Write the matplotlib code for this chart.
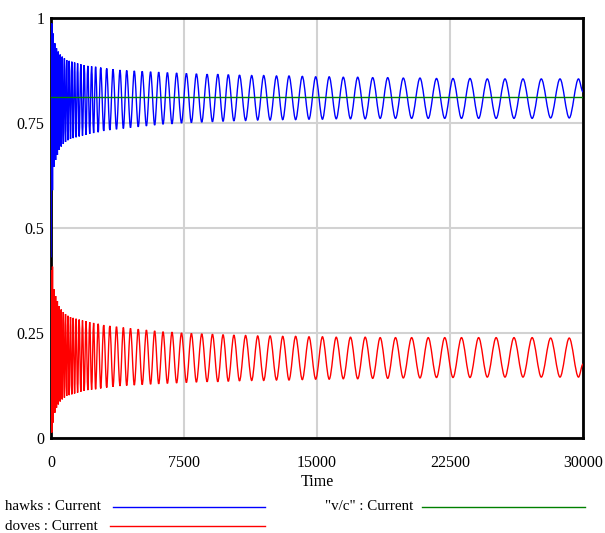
import matplotlib
matplotlib.use("Agg")
import matplotlib.pyplot as plt
from matplotlib.path import Path
from matplotlib.patches import PathPatch
from matplotlib.lines import Line2D

plt.rcParams['font.family'] = ['Liberation Serif', 'DejaVu Serif']

### turning points (crests / troughs), hawks first crest at t=45
turn_times = [0,
    45, 85, 124, 169, 214, 262, 310, 361, 412, 465, 519, 575, 632, 694, 756, 820,
    885, 955, 1026, 1100, 1173, 1252, 1331, 1415, 1500, 1590, 1680, 1776, 1872, 1973,
    2075, 2182, 2290, 2402, 2515, 2660, 2803, 2972, 3141, 3318, 3496, 3693, 3891, 4080,
    4269, 4483, 4697, 4920, 5143, 5380, 5616, 5845, 6073, 6318, 6564, 6823, 7083, 7359,
    7635, 7917, 8199, 8501, 8803, 9105, 9406, 9702, 9998, 10314, 10630, 10974, 11318,
    11656, 11995, 12355, 12716, 13068, 13421, 13796, 14171, 14549, 14927, 15307, 15688,
    16085, 16483, 16889, 17295, 17718, 18141, 18564, 18987, 19427, 19867, 20337, 20808,
    21273, 21739, 22204, 22669, 23148, 23628, 24115, 24603, 25102, 25601, 26108, 26616,
    27132, 27648, 28175, 28703, 29224, 29746,
    30000]

hawks = [0.43,
    0.987, 0.590, 0.963, 0.646, 0.940, 0.662, 0.928, 0.674, 0.920, 0.686, 0.913, 0.694,
    0.908, 0.700, 0.904, 0.705, 0.900, 0.709, 0.898, 0.712, 0.896, 0.714, 0.894, 0.716,
    0.892, 0.718, 0.890, 0.720, 0.888, 0.722, 0.886, 0.724, 0.885, 0.726, 0.884, 0.728,
    0.882, 0.731, 0.880, 0.733, 0.878, 0.735, 0.876, 0.737, 0.875, 0.739, 0.874, 0.741,
    0.873, 0.743, 0.872, 0.745, 0.871, 0.747, 0.870, 0.748, 0.869, 0.750, 0.868, 0.751,
    0.867, 0.752, 0.866, 0.753, 0.866, 0.754, 0.865, 0.755, 0.864, 0.756, 0.863, 0.757,
    0.863, 0.757, 0.862, 0.758, 0.862, 0.758, 0.861, 0.759, 0.860, 0.759, 0.860, 0.760,
    0.859, 0.760, 0.859, 0.760, 0.858, 0.761, 0.858, 0.761, 0.857, 0.761, 0.857, 0.761,
    0.856, 0.761, 0.856, 0.761, 0.856, 0.761, 0.855, 0.761, 0.855, 0.761, 0.855, 0.761,
    0.855, 0.762, 0.855, 0.762, 0.855,
    0.824]

doves = [0.40,
    0.013, 0.408, 0.037, 0.354, 0.060, 0.338, 0.072, 0.326, 0.080, 0.314, 0.087, 0.306,
    0.092, 0.300, 0.096, 0.295, 0.100, 0.291, 0.102, 0.288, 0.104, 0.286, 0.106, 0.284,
    0.108, 0.282, 0.110, 0.280, 0.112, 0.278, 0.114, 0.276, 0.115, 0.274, 0.116, 0.272,
    0.118, 0.269, 0.120, 0.267, 0.122, 0.265, 0.124, 0.263, 0.125, 0.261, 0.126, 0.259,
    0.127, 0.257, 0.128, 0.255, 0.129, 0.253, 0.130, 0.252, 0.131, 0.250, 0.132, 0.249,
    0.133, 0.248, 0.134, 0.247, 0.134, 0.246, 0.135, 0.245, 0.136, 0.244, 0.137, 0.243,
    0.137, 0.243, 0.138, 0.242, 0.138, 0.242, 0.139, 0.241, 0.140, 0.241, 0.140, 0.240,
    0.141, 0.240, 0.141, 0.240, 0.142, 0.239, 0.142, 0.239, 0.143, 0.239, 0.143, 0.239,
    0.144, 0.239, 0.144, 0.239, 0.144, 0.239, 0.145, 0.239, 0.145, 0.239, 0.145, 0.239,
    0.145, 0.238, 0.145, 0.238, 0.145,
    0.176]

vc_times = [0, 30000]
vc = [0.813, 0.813]

x_ticks = [0, 7500, 15000, 22500, 30000]
x_labels = ['0', '7500', '15000', '22500', '30000']
y_ticks = [0, 0.25, 0.5, 0.75, 1]
y_labels = ['0', '0.25', '0.5', '0.75', '1']


def smooth_path(ts, vs):
    # cubic segments between turning points, flat at each crest/trough
    verts = [(ts[0], vs[0])]
    codes = [Path.MOVETO]
    for i in range(1, len(ts)):
        d = (ts[i] - ts[i - 1]) / 3.0
        verts += [(ts[i - 1] + d, vs[i - 1]), (ts[i] - d, vs[i]), (ts[i], vs[i])]
        codes += [Path.CURVE4] * 3
    return Path(verts, codes)


W, H = 605, 533
fig = plt.figure(figsize=(W / 100, H / 100), dpi=100)
ax = fig.add_axes([51 / W, (H - 438) / H, 532 / W, 420 / H])

ax.add_patch(PathPatch(smooth_path(turn_times, hawks), facecolor='none',
                       edgecolor='#0000ff', linewidth=1.0, zorder=3))
ax.add_patch(PathPatch(smooth_path(turn_times, doves), facecolor='none',
                       edgecolor='#ff0000', linewidth=1.0, zorder=3))
ax.plot(vc_times, vc, color='#008000', linewidth=1.0, zorder=4)

ax.set_xlim(0, 30000)
ax.set_ylim(0, 1)
ax.set_xticks(x_ticks)
ax.set_xticklabels(x_labels)
ax.set_yticks(y_ticks)
ax.set_yticklabels(y_labels)
ax.tick_params(length=0, labelsize=11.5)
ax.tick_params(axis='x', pad=12.5)
ax.tick_params(axis='y', pad=4.5)
ax.grid(True, color='#d2d2d2', linewidth=1.5, zorder=0)
ax.set_axisbelow(True)
for s in ax.spines.values():
    s.set_linewidth(2)
    s.set_color('black')
ax.set_xlabel('Time', fontsize=11.5, labelpad=2)

### legend under the plot, Vensim style
def fx(px):
    return px / W

def fy(py):
    return 1 - py / H

fig.text(fx(5), fy(507), 'hawks : Current', fontsize=10.8, va='center', ha='left')
fig.add_artist(Line2D([fx(113), fx(265)], [fy(507), fy(507)], color='#0000ff', linewidth=1))
fig.text(fx(5), fy(526), 'doves : Current', fontsize=10.8, va='center', ha='left')
fig.add_artist(Line2D([fx(110), fx(265)], [fy(526), fy(526)], color='#ff0000', linewidth=1))
fig.text(fx(325), fy(507), '"v/c" : Current', fontsize=10.8, va='center', ha='left')
fig.add_artist(Line2D([fx(422), fx(585)], [fy(507), fy(507)], color='#008000', linewidth=1))

fig.savefig('out.png', dpi=100)
